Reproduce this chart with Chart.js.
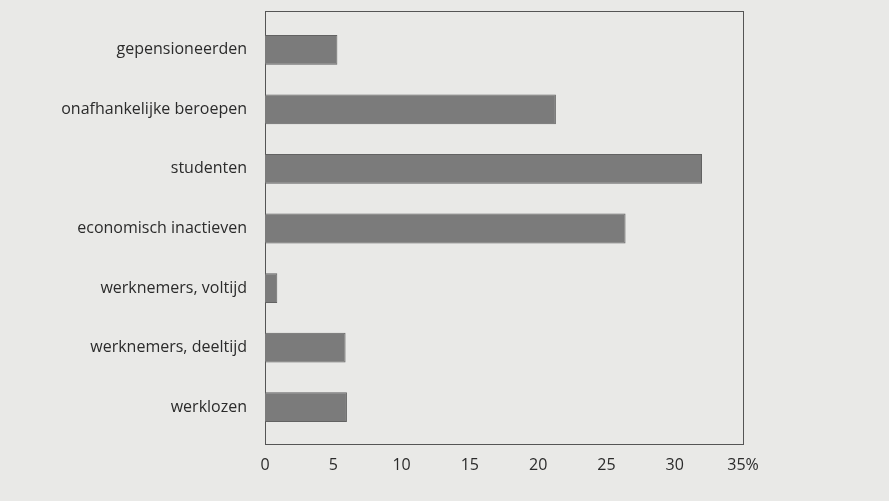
<!DOCTYPE html>
<html>
<head>
<meta charset="utf-8">
<script src="https://cdn.jsdelivr.net/npm/chart.js@4"></script>
<style>
  html, body { margin: 0; padding: 0; background: #e9e9e7; }
  #wrap { width: 889px; height: 501px; }
</style>
</head>
<body>
<div id="wrap"><canvas id="chart" width="889" height="501"></canvas></div>
<script>
const categories = [
  'gepensioneerden',
  'onafhankelijke beroepen',
  'studenten',
  'economisch inactieven',
  'werknemers, voltijd',
  'werknemers, deeltijd',
  'werklozen'
];
const shares = [5.3, 21.3, 32.0, 26.4, 0.9, 5.9, 6.0];
const xTicks = [0, 5, 10, 15, 20, 25, 30, 35];

// frame around the plot, a bit taller than the category band
const framePlugin = {
  id: 'frame',
  beforeDatasetsDraw(chart) {
    const {ctx, chartArea: a} = chart;
    ctx.save();
    ctx.strokeStyle = '#555';
    ctx.lineWidth = 1;
    const top = Math.round(a.top - 9) + 0.5;
    const bottom = Math.round(a.bottom + 7) + 0.5;
    const left = Math.round(a.left) + 0.5;
    const right = Math.round(a.right) + 0.5;
    ctx.strokeRect(left, top, right - left, bottom - top);
    ctx.restore();
  }
};

const font = { family: '"Open Sans", "Noto Sans", sans-serif', size: 16 };

new Chart(document.getElementById('chart'), {
  type: 'bar',
  data: {
    labels: categories,
    datasets: [{
      data: shares,
      backgroundColor: '#7b7b7b',
      borderColor: '#626262',
      borderWidth: 1,
      barPercentage: 0.5,
      categoryPercentage: 1.0
    }]
  },
  options: {
    indexAxis: 'y',
    responsive: false,
    animation: false,
    layout: { padding: { top: 20, right: 146, left: 0, bottom: 0 } },
    plugins: { legend: { display: false }, tooltip: { enabled: false } },
    scales: {
      x: {
        min: 0,
        max: 35,
        afterBuildTicks(scale) { scale.ticks = xTicks.map(v => ({ value: v })); },
        afterFit(scale) { scale.height = 64; },
        grid: { display: false, drawTicks: false },
        border: { display: false },
        ticks: {
          padding: 19,
          color: '#2b2b2b',
          font: font,
          maxRotation: 0,
          callback: v => v === 35 ? '35%' : String(v)
        }
      },
      y: {
        afterFit(scale) {
          scale.width = 265;
          scale.paddingTop = 0;
          scale.paddingBottom = 0;
        },
        grid: { display: false, drawTicks: false },
        border: { display: false },
        ticks: { padding: 18, color: '#2b2b2b', font: font }
      }
    }
  },
  plugins: [framePlugin]
});
</script>
</body>
</html>
